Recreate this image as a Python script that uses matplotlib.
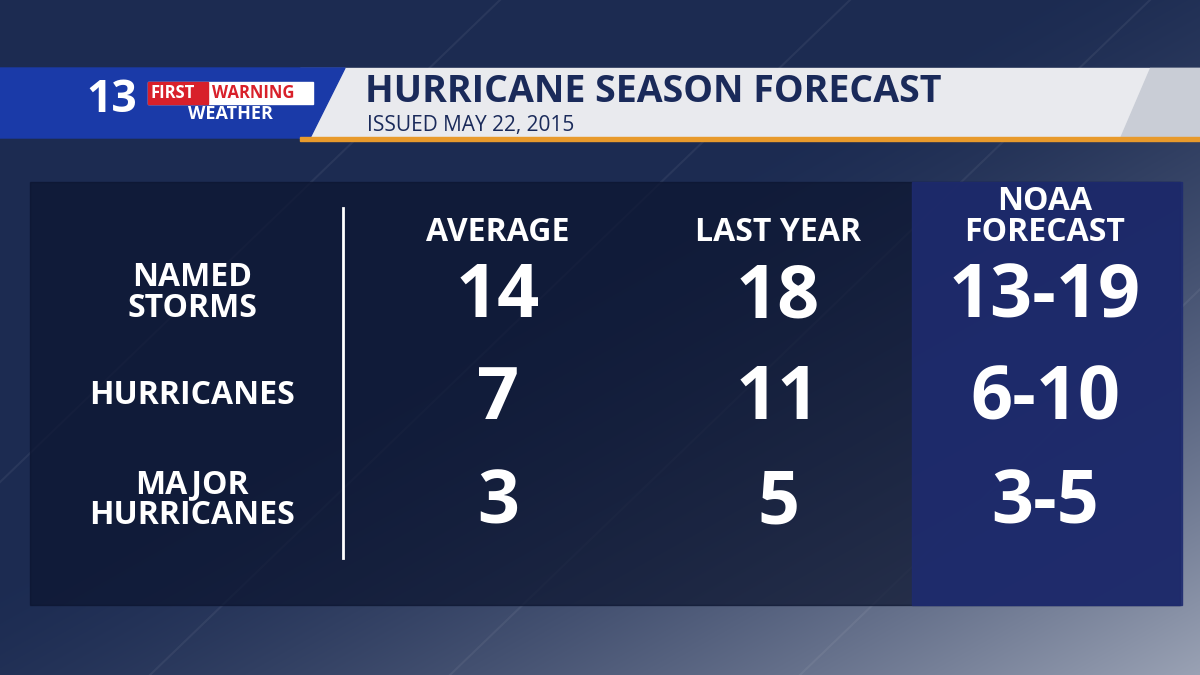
import numpy as np
import matplotlib
matplotlib.use("Agg")
import matplotlib.pyplot as plt
from matplotlib.patches import Rectangle, Polygon

title = "HURRICANE SEASON FORECAST"
subtitle = "ISSUED MAY 22, 2015"
columns = ["AVERAGE", "LAST YEAR", "NOAA\nFORECAST"]
rows = ["NAMED\nSTORMS", "HURRICANES", "MAJOR\nHURRICANES"]
average = ["14", "7", "3"]
last_year = ["18", "11", "5"]
noaa = ["13-19", "6-10", "3-5"]

FONT = "Open Sans"
fig = plt.figure(figsize=(12, 6.75), dpi=100)
ax = fig.add_axes([0, 0, 1, 1])
ax.set_xlim(0, 1200); ax.set_ylim(675, 0); ax.axis("off")

# background gradient
yy, xx = np.mgrid[0:675, 0:1200]
t = np.clip((xx / 1200) * 0.7 + (yy / 675) * 0.7 - 0.6, 0, 1)
base = np.array([0.11, 0.17, 0.32])
light = np.array([0.80, 0.82, 0.86])
img = base[None, None, :] * (1 - t[..., None] ** 1.5) + light[None, None, :] * (t[..., None] ** 1.5)
ax.imshow(img, extent=[0, 1200, 675, 0], zorder=0, aspect="auto")

for x0 in [-200, 150, 450, 800]:
    ax.plot([x0, x0 + 700], [675, 0], color="white", alpha=0.06, lw=1.5, zorder=1)

# header
ax.add_patch(Polygon([[300, 68], [1200, 68], [1200, 138], [300, 138]], color="#e9eaee", zorder=2))
ax.add_patch(Polygon([[1150, 68], [1200, 68], [1200, 138], [1120, 138]], color="#c9cdd6", zorder=2))
ax.add_patch(Polygon([[0, 68], [345, 68], [310, 138], [0, 138]], color="#1a3aa8", zorder=3))
ax.add_patch(Rectangle((300, 137), 900, 4, color="#e89a2c", zorder=3))
ax.text(365, 92, title, color="#1a2a5a", fontsize=27, fontweight="bold", family=FONT, va="center", zorder=4)
ax.text(367, 125, subtitle, color="#1a2a5a", fontsize=15, family=FONT, va="center", zorder=4)
# logo
ax.text(86, 101, "13", color="white", fontsize=32, fontweight="bold", family=FONT, va="center", zorder=4)
ax.add_patch(Rectangle((148, 82), 165, 22, color="white", zorder=4))
ax.add_patch(Rectangle((148, 82), 60, 22, color="#d8202a", zorder=4))
ax.text(151, 93, "FIRST", color="white", fontsize=12, fontweight="bold", family=FONT, va="center", zorder=5)
ax.text(212, 93, "WARNING", color="#d8202a", fontsize=12, fontweight="bold", family=FONT, va="center", zorder=5)
ax.text(230, 114, "WEATHER", color="white", fontsize=13, fontweight="bold", family=FONT, va="center", ha="center", zorder=5)

# table panel
ax.add_patch(Rectangle((30, 182), 1150, 423, color="#0c1530", alpha=0.72, zorder=2))
ax.add_patch(Rectangle((912, 182), 270, 423, color="#1e2b70", alpha=0.88, zorder=3))
ax.plot([343, 343], [208, 558], color="white", lw=2, zorder=4)

col_x = [498, 778, 1045]
for cx, c in zip(col_x, columns):
    ax.text(cx, 249, c, color="white", fontsize=23, fontweight="bold", family=FONT,
            ha="center", va="bottom", linespacing=0.9, zorder=5)
row_y = [298, 400, 505]
for ry, r in zip(row_y, rows):
    ax.text(192, ry - 5, r, color="white", fontsize=23, fontweight="bold", family=FONT,
            ha="center", va="center", linespacing=0.9, zorder=5)
for ci, vals in enumerate([average, last_year, noaa]):
    for ry, v in zip(row_y, vals):
        ax.text(col_x[ci], ry, v, color="white", fontsize=53, fontweight="bold", family=FONT,
                ha="center", va="center", zorder=5)

fig.savefig("out.png", dpi=100)
